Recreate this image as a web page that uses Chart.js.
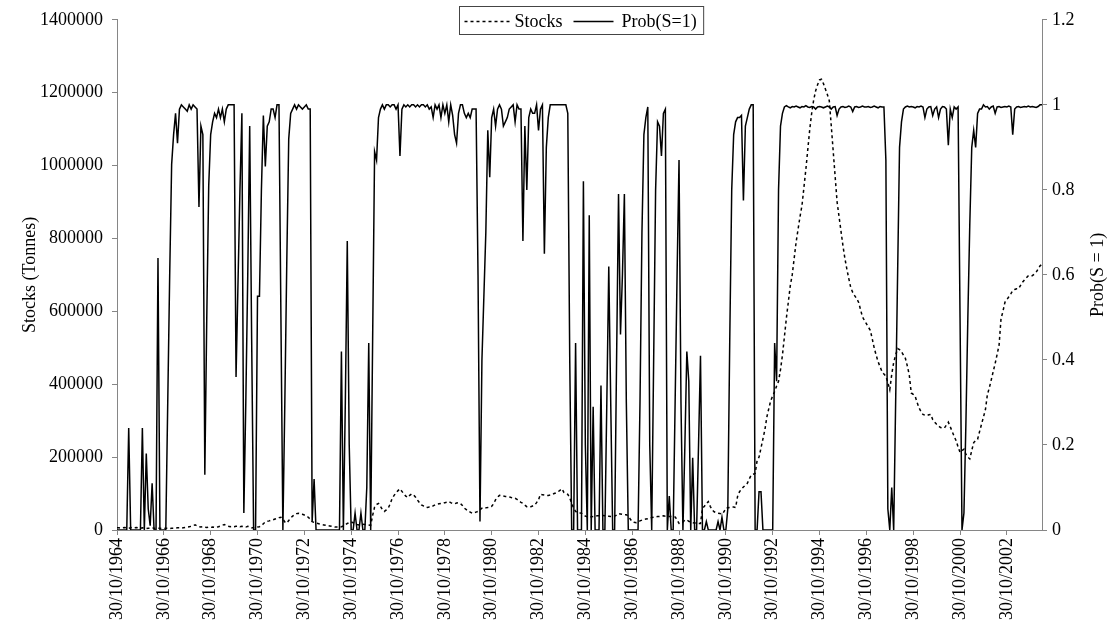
<!DOCTYPE html>
<html>
<head>
<meta charset="utf-8">
<title>Stocks and Prob(S=1)</title>
<script src="https://cdn.jsdelivr.net/npm/chart.js@4.4.0/dist/chart.umd.min.js"></script>
<style>
    html, body { margin: 0; padding: 0; background: #fff; }
    canvas { display: block; }
</style>
</head>
<body>
<canvas id="chart" width="1110" height="636"></canvas>
<script>
// Stocks vs regime probability - Chart.js

// Date axis labels, one every 24 months
const tickLabels = [
    '30/10/1964', '30/10/1966', '30/10/1968', '30/10/1970', '30/10/1972',
    '30/10/1974', '30/10/1976', '30/10/1978', '30/10/1980', '30/10/1982',
    '30/10/1984', '30/10/1986', '30/10/1988', '30/10/1990', '30/10/1992',
    '30/10/1994', '30/10/1996', '30/10/1998', '30/10/2000', '30/10/2002'
];
const monthsPerTick = 24;

// Monthly stocks (tonnes), one row per year starting 30/10/1964
const stocks = [
    6000, 6000, 5000, 6000, 7000, 6000, 5000, 6000, 7000, 6000, 7000, 6000,
    5000, 6000, 5000, 4000, 5000, 5000, 6000, 5000, 4000, 5000, 5000, 4000,
    4000, 5000, 5000, 4000, 5000, 5000, 5000, 6000, 6000, 5000, 6000, 7000,
    8000, 9000, 10000, 12000, 14000, 11000, 9000, 8000, 9000, 8000, 7000, 8000,
    7000, 8000, 7000, 8000, 9000, 11000, 13000, 15000, 12000, 10000, 9000, 10000,
    9000, 10000, 11000, 9000, 10000, 9000, 8000, 10000, 9000, 6000, 6000, 7000,
    8000, 9000, 12000, 17000, 22000, 24000, 25000, 27000, 28000, 30000, 32000, 34000,
    35000, 30000, 22000, 19000, 26000, 33000, 38000, 42000, 45000, 46000, 44000, 43000,
    41000, 39000, 35000, 30000, 23000, 21000, 19000, 18000, 16000, 15000, 14000, 13000,
    12000, 11000, 10000, 9000, 8000, 8000, 8000, 9000, 11000, 14000, 18000, 20000,
    22000, 20000, 17000, 15000, 14000, 15000, 16000, 15000, 15000, 14000, 13000, 40000,
    63000, 70000, 73000, 65000, 56000, 51000, 55000, 60000, 72000, 87000, 95000, 102000,
    108000, 113000, 106000, 99000, 93000, 89000, 95000, 99000, 96000, 90000, 82000, 75000,
    69000, 66000, 63000, 62000, 63000, 63000, 66000, 69000, 71000, 72000, 73000, 73000,
    75000, 76000, 78000, 75000, 73000, 72000, 74000, 75000, 73000, 67000, 60000, 56000,
    52000, 49000, 46000, 47000, 49000, 51000, 55000, 60000, 62000, 61000, 62000, 64000,
    65000, 72000, 83000, 90000, 95000, 94000, 93000, 92000, 92000, 91000, 89000, 88000,
    87000, 84000, 80000, 76000, 73000, 68000, 64000, 63000, 64000, 66000, 68000, 75000,
    83000, 98000, 97000, 96000, 95000, 95000, 96000, 97000, 100000, 102000, 105000, 109000,
    113000, 103000, 100000, 98000, 88000, 73000, 60000, 51000, 48000, 47000, 46000, 42000,
    38000, 36000, 35000, 36000, 37000, 38000, 39000, 39000, 40000, 40000, 39000, 38000,
    38000, 37000, 36000, 38000, 41000, 45000, 44000, 43000, 42000, 42000, 38000, 30000,
    23000, 21000, 20000, 22000, 25000, 27000, 29000, 30000, 31000, 33000, 34000, 35000,
    36000, 37000, 37000, 38000, 39000, 38000, 38000, 37000, 37000, 36000, 36000, 28000,
    18000, 20000, 22000, 27000, 28000, 24000, 21000, 20000, 19000, 19000, 18000, 18000,
    59000, 65000, 72000, 78000, 65000, 55000, 50000, 48000, 46000, 45000, 43500, 50000,
    60000, 61000, 62000, 63000, 63000, 62000, 92000, 105000, 112000, 118000, 123000, 128000,
    140000, 151000, 153000, 155000, 190000, 200000, 225000, 250000, 275000, 310000, 333000, 355000,
    368000, 380000, 395000, 408000, 440000, 480000, 530000, 581000, 625000, 670000, 700000, 745000,
    790000, 825000, 860000, 890000, 940000, 990000, 1045000, 1100000, 1145000, 1180000, 1205000, 1222000,
    1235000, 1237000, 1225000, 1210000, 1195000, 1178000, 1110000, 1040000, 970000, 900000, 860000, 820000,
    780000, 745000, 716000, 690000, 665000, 652000, 643000, 635000, 625000, 605000, 585000, 575000,
    566000, 557000, 548000, 525000, 500000, 480000, 462000, 448000, 435000, 428000, 422000, 405000,
    385000, 427000, 460000, 480000, 498000, 495000, 489000, 480000, 471000, 450000, 425000, 376000,
    372000, 367000, 350000, 335000, 325000, 317000, 315000, 314000, 316000, 317000, 303000, 296000,
    290000, 285000, 281000, 280000, 280000, 288000, 296000, 283000, 270000, 257000, 245000, 228000,
    213000, 218000, 222000, 208000, 200000, 195000, 218000, 240000, 245000, 249000, 270000, 290000,
    310000, 330000, 371000, 390000, 412000, 435000, 457000, 482000, 507000, 580000, 600000, 625000,
    632000, 640000, 648000, 657000, 660000, 662000, 662000, 671000, 680000, 686000, 692000, 698000,
    698000, 698000, 702000, 707000, 716000, 725000, 729000
];

// Monthly probability of regime S=1, same dates
const probS1 = [
    0, 0, 0, 0, 0, 0, 0.24, 0, 0, 0, 0, 0,
    0, 0.24, 0, 0.18, 0.05, 0.01, 0.11, 0, 0, 0.64, 0, 0,
    0, 0, 0.3, 0.6, 0.86, 0.93, 0.98, 0.91, 0.99, 1, 0.995, 0.99,
    0.985, 1, 0.99, 1, 0.995, 0.99, 0.76, 0.95, 0.93, 0.13, 0.5, 0.81,
    0.93, 0.96, 0.98, 0.97, 0.99, 0.97, 0.99, 0.96, 0.99, 1, 1, 1,
    1, 0.36, 0.58, 0.8, 0.98, 0.04, 0.3, 0.6, 0.95, 0.45, 0, 0,
    0.55, 0.55, 0.8, 0.975, 0.855, 0.95, 0.96, 0.99, 0.99, 0.97, 1, 1,
    0.5, 0, 0.3, 0.63, 0.92, 0.98, 0.99, 1, 0.99, 1, 0.995, 0.99,
    0.995, 1, 0.99, 0.99, 0.02, 0.12, 0, 0, 0, 0, 0, 0,
    0, 0, 0, 0, 0, 0, 0, 0.42, 0, 0.3, 0.68, 0.2,
    0, 0, 0.04, 0, 0, 0.04, 0, 0, 0.1, 0.44, 0, 0.45,
    0.89, 0.87, 0.97, 0.99, 1, 0.99, 1, 1, 0.995, 1, 1, 0.99,
    1, 0.88, 0.99, 1, 0.995, 1, 0.995, 1, 1, 0.995, 1, 0.995,
    1, 1, 0.995, 1, 0.99, 0.995, 0.97, 1, 0.99, 1, 0.97, 1,
    0.98, 1, 0.96, 1, 0.975, 0.93, 0.91, 0.98, 1, 1, 0.98, 0.97,
    0.98, 0.97, 0.99, 0.99, 0.99, 0.6, 0.02, 0.4, 0.55, 0.7, 0.94, 0.83,
    0.97, 0.99, 0.95, 0.99, 1, 0.99, 0.95, 0.96, 0.97, 0.99, 0.995, 1,
    0.96, 1, 0.99, 0.99, 0.68, 0.95, 0.8, 0.97, 0.99, 0.98, 0.98, 1,
    0.94, 0.99, 1, 0.65, 0.9, 0.97, 1, 1, 1, 1, 1, 1,
    1, 1, 1, 0.98, 0.4, 0, 0, 0.44, 0, 0, 0, 0.82,
    0.2, 0, 0.74, 0, 0.29, 0, 0, 0, 0.34, 0, 0, 0.3,
    0.62, 0.3, 0, 0, 0.4, 0.79, 0.46, 0.6, 0.79, 0.3, 0, 0,
    0, 0, 0, 0, 0.3, 0.7, 0.93, 0.97, 0.995, 0.2, 0, 0.4,
    0.8, 0.96, 0.95, 0.88, 0.98, 0.99, 0, 0.08, 0, 0, 0.3, 0.6,
    0.87, 0.3, 0, 0.2, 0.42, 0.35, 0, 0.17, 0, 0, 0.2, 0.41,
    0, 0, 0.02, 0, 0, 0, 0, 0, 0.02, 0, 0.03, 0,
    0, 0.05, 0.45, 0.8, 0.93, 0.96, 0.97, 0.97, 0.975, 0.775, 0.95, 0.97,
    0.99, 1, 1, 0, 0, 0.09, 0.09, 0, 0, 0, 0, 0,
    0, 0.44, 0.35, 0.8, 0.95, 0.98, 0.995, 0.998, 0.995, 0.993, 0.996, 0.995,
    0.997, 0.995, 0.993, 0.996, 0.995, 0.998, 0.995, 0.994, 0.996, 0.995, 0.99, 0.995,
    0.996, 0.995, 0.993, 0.995, 0.997, 0.995, 0.99, 0.995, 0.996, 0.975, 0.99, 0.995,
    0.996, 0.994, 0.995, 0.997, 0.995, 0.984, 0.995, 0.996, 0.994, 0.995, 0.997, 0.995,
    0.995, 0.996, 0.994, 0.995, 0.997, 0.995, 0.993, 0.996, 0.995, 0.995, 0.87, 0.05,
    0, 0.1, 0, 0.3, 0.6, 0.9, 0.96, 0.99, 0.995, 0.997, 0.995, 0.996,
    0.995, 0.993, 0.996, 0.995, 0.997, 0.995, 0.97, 0.99, 0.995, 0.996, 0.975, 0.99,
    0.995, 0.97, 0.99, 0.996, 0.995, 0.99, 0.905, 0.99, 0.97, 0.995, 0.99, 0.995,
    0.5, 0, 0.04, 0.25, 0.5, 0.72, 0.9, 0.94, 0.9, 0.98, 0.99, 0.99,
    1, 0.995, 0.996, 0.99, 0.995, 0.997, 0.98, 0.995, 0.996, 0.994, 0.995, 0.996,
    0.995, 0.997, 0.995, 0.93, 0.99, 0.995, 0.996, 0.994, 0.995, 0.996, 0.995, 0.997,
    0.995, 0.996, 0.995, 0.994, 0.996, 1, 1
];

const seriesNames = ['Stocks', 'Prob(S=1)'];
const axisTitles = { left: 'Stocks (Tonnes)', right: 'Prob(S = 1)' };

const FONT = "'Liberation Serif', 'Times New Roman', serif";
const FONT_SIZE = 18;
const AXIS_GREY = '#868686';

// {x: month index, y: value}
function toPoints(values) {
    return values.map((v, i) => ({ x: i, y: v }));
}

// Boxed legend sitting inside the plot, Excel style
const boxLegend = {
    id: 'boxLegend',
    afterDatasetsDraw(chart) {
        const { ctx, chartArea } = chart;
        const ds = chart.data.datasets;
        ctx.save();
        ctx.font = `${FONT_SIZE}px ${FONT}`;
        const w0 = ctx.measureText(ds[0].label).width;
        const w1 = ctx.measureText(ds[1].label).width;
        const sample0 = 47, sample1 = 40;
        const total = 5 + sample0 + 3 + w0 + 11 + sample1 + 8 + w1 + 7;
        const center = (chartArea.left + chartArea.right) / 2 + 2;
        const left = Math.round(center - total / 2) + 0.5;
        const top = 6.5, height = 28, mid = 21.5;

        ctx.fillStyle = '#fff';
        ctx.fillRect(left, top, total, height);
        ctx.strokeStyle = '#444';
        ctx.lineWidth = 1;
        ctx.strokeRect(left, top, total, height);

        let x = left + 5;
        ctx.strokeStyle = '#000';
        ctx.lineWidth = ds[0].borderWidth;
        ctx.setLineDash(ds[0].borderDash);
        ctx.beginPath();
        ctx.moveTo(x, mid);
        ctx.lineTo(x + sample0, mid);
        ctx.stroke();
        x += sample0 + 3;

        ctx.fillStyle = '#000';
        ctx.textAlign = 'left';
        ctx.textBaseline = 'middle';
        ctx.fillText(ds[0].label, x, mid + 1);
        x += w0 + 11;

        ctx.lineWidth = ds[1].borderWidth;
        ctx.setLineDash([]);
        ctx.beginPath();
        ctx.moveTo(x, mid);
        ctx.lineTo(x + sample1, mid);
        ctx.stroke();
        x += sample1 + 8;

        ctx.fillText(ds[1].label, x, mid + 1);
        ctx.restore();
    }
};

// Secondary axis title, read bottom to top like the left one
const rightTitle = {
    id: 'rightTitle',
    afterDraw(chart) {
        const { ctx, chartArea } = chart;
        const scale = chart.scales.y1;
        ctx.save();
        ctx.font = `${FONT_SIZE}px ${FONT}`;
        ctx.fillStyle = '#000';
        ctx.textAlign = 'center';
        ctx.textBaseline = 'middle';
        ctx.translate(scale.right - 12, (chartArea.top + chartArea.bottom) / 2);
        ctx.rotate(-Math.PI / 2);
        ctx.fillText(axisTitles.right, 0, 0);
        ctx.restore();
    }
};

const tickFont = { family: FONT, size: FONT_SIZE };

new Chart(document.getElementById('chart'), {
    type: 'line',
    data: {
        datasets: [
            {
                label: seriesNames[0],
                data: toPoints(stocks),
                yAxisID: 'y',
                borderColor: '#000',
                borderWidth: 1.5,
                borderDash: [3, 3],
                pointRadius: 0,
                fill: false,
                tension: 0
            },
            {
                label: seriesNames[1],
                data: toPoints(probS1),
                yAxisID: 'y1',
                borderColor: '#000',
                borderWidth: 1.5,
                pointRadius: 0,
                fill: false,
                tension: 0
            }
        ]
    },
    options: {
        responsive: false,
        animation: false,
        layout: { padding: { top: 14.5, right: 0, bottom: 0, left: 0 } },
        plugins: {
            legend: { display: false },
            tooltip: { enabled: false }
        },
        scales: {
            x: {
                type: 'linear',
                min: 0,
                max: stocks.length - 1,
                afterBuildTicks: (scale) => {
                    scale.ticks = tickLabels.map((t, k) => ({ value: k * monthsPerTick }));
                },
                afterFit: (scale) => { scale.height = 106; },
                grid: { drawOnChartArea: false, tickLength: 5, color: AXIS_GREY },
                border: { color: AXIS_GREY },
                ticks: {
                    autoSkip: false,
                    minRotation: 90,
                    maxRotation: 90,
                    padding: 3,
                    color: '#000',
                    font: tickFont,
                    callback: (v, i) => tickLabels[i]
                }
            },
            y: {
                position: 'left',
                min: 0,
                max: 1400000,
                afterFit: (scale) => { scale.width = 117; },
                grid: { drawOnChartArea: false, tickLength: 5, color: AXIS_GREY },
                border: { color: AXIS_GREY },
                ticks: {
                    stepSize: 200000,
                    padding: 9,
                    color: '#000',
                    font: tickFont,
                    callback: (v) => String(v)
                },
                title: {
                    display: true,
                    text: axisTitles.left,
                    color: '#000',
                    font: tickFont,
                    padding: { top: 19, bottom: 0 }
                }
            },
            y1: {
                position: 'right',
                min: 0,
                max: 1.2,
                afterFit: (scale) => { scale.width = 68; },
                grid: { drawOnChartArea: false, tickLength: 5, color: AXIS_GREY },
                border: { color: AXIS_GREY },
                ticks: {
                    stepSize: 0.2,
                    padding: 5,
                    color: '#000',
                    font: tickFont,
                    callback: (v) => String(+v.toFixed(1))
                }
            }
        }
    },
    plugins: [boxLegend, rightTitle]
});
</script>
</body>
</html>
